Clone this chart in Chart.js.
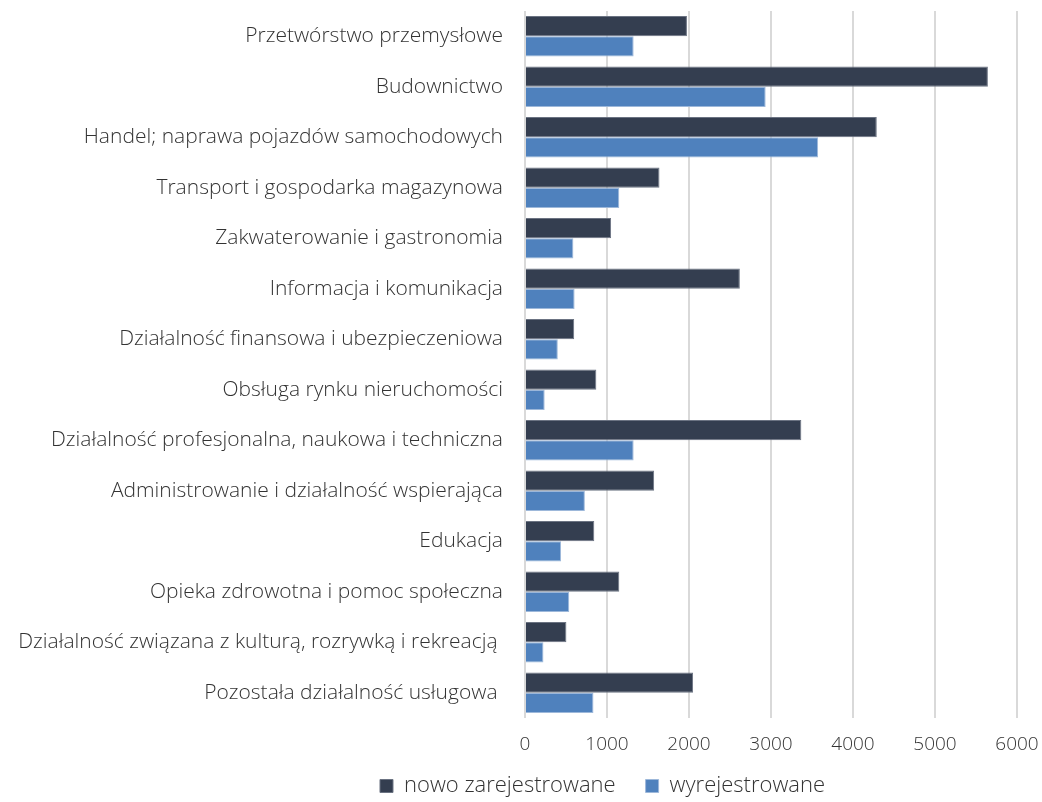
<!DOCTYPE html>
<html>
<head>
<meta charset="utf-8">
<script src="https://cdn.jsdelivr.net/npm/chart.js@4/dist/chart.umd.min.js"></script>
<style>
  body { margin: 0; background: #fff; }
  #wrap { width: 1042px; height: 802px; }
</style>
</head>
<body>
<div id="wrap"><canvas id="wykres"></canvas></div>
<script>
const sekcje = [
    "Przetwórstwo przemysłowe",
    "Budownictwo",
    "Handel; naprawa pojazdów samochodowych",
    "Transport i gospodarka magazynowa",
    "Zakwaterowanie i gastronomia",
    "Informacja i komunikacja",
    "Działalność finansowa i ubezpieczeniowa",
    "Obsługa rynku nieruchomości",
    "Działalność profesjonalna, naukowa i techniczna",
    "Administrowanie i działalność wspierająca",
    "Edukacja",
    "Opieka zdrowotna i pomoc społeczna",
    "Działalność związana z kulturą, rozrywką i rekreacją ",
    "Pozostała działalność usługowa "
];

const nowoZarejestrowane = [1975, 5645, 4290, 1640, 1050, 2620, 600, 870, 3370, 1575, 845, 1150, 505, 2050];
const wyrejestrowane = [1325, 2935, 3575, 1150, 590, 605, 400, 240, 1325, 730, 440, 540, 225, 835];

const nazwySerii = ["nowo zarejestrowane", "wyrejestrowane"];

const czcionka = "'Open Sans', 'Noto Sans', sans-serif";

const data = {
    labels: sekcje,
    datasets: [{
        label: nazwySerii[0],
        data: nowoZarejestrowane,
        backgroundColor: '#343e50',
        borderColor: '#6b7382',
        borderWidth: 1,
        categoryPercentage: 0.8,
        barPercentage: 1.0
    }, {
        label: nazwySerii[1],
        data: wyrejestrowane,
        backgroundColor: '#4f81bd',
        borderColor: '#9db8da',
        borderWidth: 1,
        categoryPercentage: 0.8,
        barPercentage: 1.0
    }]
};

// legenda: stała wysokość w układzie, a potem przesunięta na sam dół i trochę w prawo
const legendaNisko = {
    id: 'legendaNisko',
    afterInit(chart) {
        const leg = chart.legend;
        const fit0 = leg.fit;
        leg.fit = function () {
            fit0.call(this);
            this.height = 48;
        };
    },
    afterLayout(chart) {
        const leg = chart.legend;
        const p = leg.options.labels.padding;
        const top = 786 - p - 11;
        leg.top = top;
        leg.bottom = chart.height;
        leg.height = leg.bottom - top;
        leg.left += 90;
        leg.right += 90;
    }
};

const config = {
    type: 'bar',
    data: data,
    plugins: [legendaNisko],
    options: {
        indexAxis: 'y',
        responsive: true,
        maintainAspectRatio: false,
        animation: false,
        layout: { padding: { top: 11, right: 25, left: 8, bottom: 0 } },
        scales: {
            x: {
                min: 0,
                max: 6000,
                ticks: {
                    stepSize: 1000,
                    color: '#333',
                    font: { family: czcionka, size: 19, weight: 300 },
                    padding: 15,
                    callback: function (v) { return String(v); }
                },
                grid: { color: '#d9d9d9', lineWidth: 2, drawTicks: false },
                border: { display: false },
                afterFit: function (skala) {
                    skala.paddingRight = 0;
                    skala.paddingLeft = 0;
                    skala.height = 36;
                }
            },
            y: {
                ticks: { color: '#333', font: { family: czcionka, size: 21, weight: 300 }, padding: 22, autoSkip: false },
                grid: { display: false, drawTicks: false },
                border: { display: false },
                afterFit: function (skala) {
                    skala.width = 517;
                    skala.paddingTop = 0;
                    skala.paddingBottom = 0;
                }
            }
        },
        plugins: {
            legend: {
                position: 'bottom',
                labels: {
                    boxWidth: 13,
                    boxHeight: 13,
                    padding: 30,
                    color: '#333',
                    font: { family: czcionka, size: 22, weight: 300 }
                }
            },
            tooltip: { enabled: false }
        }
    }
};

new Chart(document.getElementById('wykres'), config);
</script>
</body>
</html>
